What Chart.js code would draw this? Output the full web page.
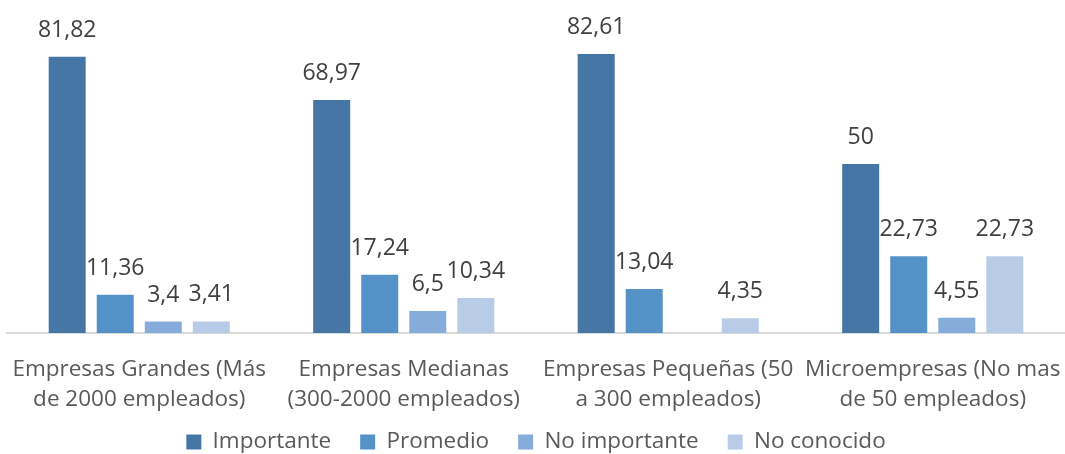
<!DOCTYPE html>
<html lang="es">
<head>
    <meta charset="UTF-8">
    <title>Importancia por tamaño de empresa</title>
    <script src="https://cdn.jsdelivr.net/npm/chart.js@4.4.1/dist/chart.umd.min.js"></script>
    <style>
        html, body {
            margin: 0;
            padding: 0;
            background: #fff;
        }
        .chart-container {
            width: 1065px;
            height: 454px;
        }
    </style>
</head>
<body>
    <div class="chart-container">
        <canvas id="barChart"></canvas>
    </div>

    <script>
        const categories = [
            ['Empresas Grandes (Más', 'de 2000 empleados)'],
            ['Empresas Medianas', '(300-2000 empleados)'],
            ['Empresas Pequeñas (50', 'a 300 empleados)'],
            ['Microempresas (No mas', 'de 50 empleados)']
        ];
        const seriesNames = ['Importante', 'Promedio', 'No importante', 'No conocido'];
        const importante = [81.82, 68.97, 82.61, 50];
        const promedio = [11.36, 17.24, 13.04, 22.73];
        const noImportante = [3.4, 6.5, null, 4.55];
        const noConocido = [3.41, 10.34, 4.35, 22.73];
        const colors = ['#4676a6', '#5592c8', '#86acdb', '#b8cce8'];

        const fontFamily = '"Open Sans", sans-serif';

        // etiquetas encima de cada barra, con coma decimal
        const valueLabels = {
            id: 'valueLabels',
            afterDatasetsDraw(chart) {
                const ctx = chart.ctx;
                ctx.save();
                ctx.font = '23px ' + fontFamily;
                ctx.fillStyle = '#404040';
                ctx.textAlign = 'center';
                ctx.textBaseline = 'alphabetic';
                chart.data.datasets.forEach((ds, i) => {
                    chart.getDatasetMeta(i).data.forEach((bar, j) => {
                        const v = ds.data[j];
                        if (v === null || v === undefined) return;
                        ctx.fillText(String(v).replace('.', ','), bar.x, bar.y - 20);
                    });
                });
                ctx.restore();
            }
        };

        // el eje x se hace más bajo para acercar la leyenda; se amplía su recorte
        // después del layout para que la segunda línea de etiquetas no se corte
        const axisClipFix = {
            id: 'axisClipFix',
            afterLayout(chart) {
                chart.scales.x.bottom += 20;
            }
        };

        const ctx = document.getElementById('barChart').getContext('2d');
        new Chart(ctx, {
            type: 'bar',
            data: {
                labels: categories,
                datasets: [importante, promedio, noImportante, noConocido].map((d, i) => ({
                    label: seriesNames[i],
                    data: d,
                    backgroundColor: colors[i],
                    borderWidth: 0,
                    categoryPercentage: 0.7265,
                    barPercentage: 0.77
                }))
            },
            options: {
                responsive: true,
                maintainAspectRatio: false,
                animation: false,
                layout: {
                    padding: { left: 7, right: 0, top: 29, bottom: -9.25 }
                },
                scales: {
                    x: {
                        grid: { display: false, tickLength: 22 },
                        border: { display: true, color: '#d9d9d9', width: 2 },
                        ticks: {
                            color: '#595959',
                            font: { family: fontFamily, size: 22.5, lineHeight: 1.333 },
                            padding: 0,
                            maxRotation: 0
                        },
                        afterFit(scale) {
                            scale.height = 68.75;
                        }
                    },
                    y: {
                        display: false,
                        min: 0,
                        max: 90
                    }
                },
                plugins: {
                    legend: {
                        position: 'bottom',
                        labels: {
                            color: '#595959',
                            font: { family: fontFamily, size: 22.5 },
                            boxWidth: 15,
                            boxHeight: 15,
                            padding: 29
                        }
                    },
                    tooltip: { enabled: false }
                }
            },
            plugins: [valueLabels, axisClipFix]
        });
    </script>
</body>
</html>
